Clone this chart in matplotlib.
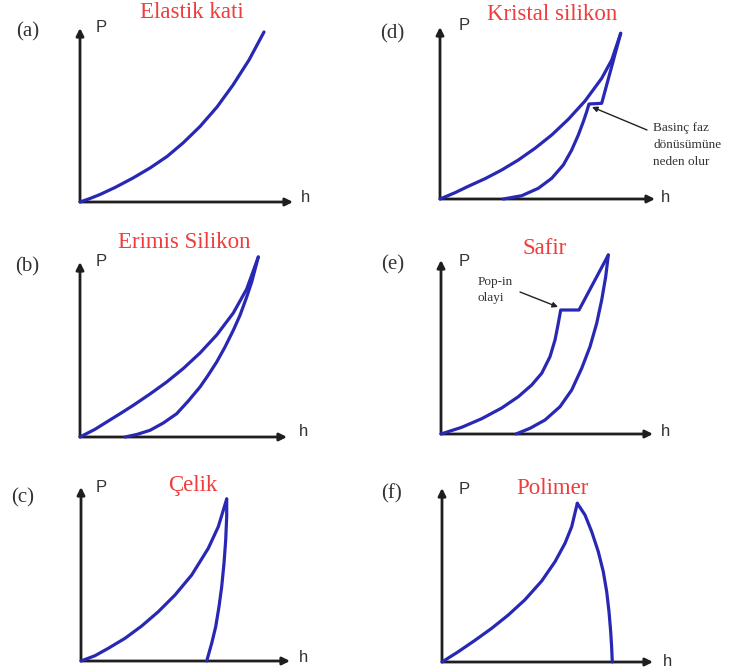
import matplotlib
matplotlib.use("Agg")
import matplotlib.pyplot as plt

W, H = 742, 669
DPI = 100

CURVE_COLOR = "#2828b4"
AXIS_COLOR = "#1e1e1e"
TITLE_COLOR = "#f03c3c"
TEXT_COLOR = "#333333"

# panel tags and material names
TAGS = ["(a)", "(b)", "(c)", "(d)", "(e)", "(f)"]
TITLES = ["Elastik kati", "Erimis Silikon", "Çelik",
          "Kristal silikon", "Safir", "Polimer"]

# (a) elastic solid: loading only
A_LOAD_H = [0, 10, 20, 35, 53, 70, 87, 103, 120, 137, 153, 169, 184]
A_LOAD_P = [0, 3.5, 7.5, 14.5, 24, 34, 45.5, 59, 75.5, 95, 117, 142, 170]

# (b) fused silica
B_LOAD_H = [0, 15, 28.3, 41.7, 53.3, 70, 86.7, 103.3, 120, 136.7, 153.3, 166.7, 178.3]
B_LOAD_P = [0, 7.7, 16, 24.3, 31.7, 43, 55, 68.5, 84, 102, 124, 148, 180]
B_UNLOAD_H = [178.3, 171.7, 166.7, 160, 153.3, 145, 136.7, 128.3, 120,
              108.3, 96.7, 83.3, 70, 56.7, 45]
B_UNLOAD_P = [180, 155, 140, 121.7, 106.7, 90, 75, 62, 50,
              36, 23.3, 14, 6.7, 2.5, 0]

# (c) steel
C_LOAD_H = [0, 14, 27.3, 44, 60.7, 77.3, 94, 110.7, 127.3, 137.3, 145.7]
C_LOAD_P = [0, 5.3, 12.7, 22.7, 35, 49.3, 66, 86, 112.7, 134.3, 162]
C_UNLOAD_H = [145.7, 145.7, 144.7, 143, 140.7, 138, 134.7, 130.7, 125.7]
C_UNLOAD_P = [162, 144.3, 121, 97.7, 74.3, 54.3, 34.3, 17.7, 0]

# (d) crystalline silicon, step on unloading
D_LOAD_H = [0, 15, 28.3, 45, 61.7, 78.3, 95, 111.7, 128.3, 145, 161.7, 171.7, 180.7]
D_LOAD_P = [0, 6.3, 12.7, 20.3, 29, 39, 50.7, 64, 79.7, 98, 120.7, 139, 165.7]
D_UNLOAD_H = [180.7, 161.7, 149, 146.7, 143.3, 138.3, 131.7, 123.3, 111.7, 98.3, 81.7, 63.3]
D_UNLOAD_P = [165.7, 95.7, 95, 87.3, 77.3, 64, 49, 34, 20.7, 10.7, 3.3, 0]

# (e) sapphire, pop-in on loading
E_LOAD_H = [0, 20.7, 40.7, 60.7, 77.3, 90.7, 100.7, 109, 114, 117.3, 119.7, 138, 167.3]
E_LOAD_P = [0, 6.7, 15.3, 26, 37.3, 49, 60.7, 77.3, 94, 110.7, 124, 124, 179]
E_UNLOAD_H = [167.3, 164.7, 160.7, 155.7, 149, 140.7, 130.7, 119, 104, 89, 75]
E_UNLOAD_P = [179, 157.3, 134, 110.7, 87.3, 65.7, 44, 27.3, 14, 5.7, 0]

# (f) polymer
F_LOAD_H = [0, 16.3, 33, 49.7, 66.3, 83, 99.7, 113, 123, 129.7, 135.3]
F_LOAD_P = [0, 10.3, 21.7, 33.7, 47, 62.3, 81, 100.3, 118.7, 135.3, 158.7]
F_UNLOAD_H = [135.3, 143, 149.7, 156.3, 161.3, 164.7, 167, 168.7, 169.7, 170.3]
F_UNLOAD_P = [158.7, 147, 130.3, 110.3, 90.3, 70.3, 50.3, 30.3, 13.7, 0]

CURVES = [
    [(A_LOAD_H, A_LOAD_P)],
    [(B_LOAD_H, B_LOAD_P), (B_UNLOAD_H, B_UNLOAD_P)],
    [(C_LOAD_H, C_LOAD_P), (C_UNLOAD_H, C_UNLOAD_P)],
    [(D_LOAD_H, D_LOAD_P), (D_UNLOAD_H, D_UNLOAD_P)],
    [(E_LOAD_H, E_LOAD_P), (E_UNLOAD_H, E_UNLOAD_P)],
    [(F_LOAD_H, F_LOAD_P), (F_UNLOAD_H, F_UNLOAD_P)],
]

# panel origin, x-axis tip, y-axis tip (pixels)
PANELS = [
    (80, 202, 293, 28),
    (80, 437, 287, 262),
    (81, 661, 290, 487),
    (440, 199, 655, 27),
    (441, 434, 653, 260),
    (442, 662, 653, 488),
]
TAG_POS = [(28, 32), (27, 267), (23, 498), (392, 34), (393, 265), (392, 494)]
TITLE_POS = [(192, 13), (184, 242), (193, 486), (552, 14), (545, 248), (552, 488)]
P_POS = [(101, 27), (101, 262), (101, 487), (464, 26), (464, 261), (464, 489)]
H_POS = [(306, 198), (304, 432), (304, 658), (666, 198), (666, 432), (668, 661)]


def fig_xy(x, y):
    return x / W, 1 - y / H


fig = plt.figure(figsize=(W / DPI, H / DPI), dpi=DPI)
fig.patch.set_facecolor("white")

serif = ["Liberation Serif", "DejaVu Serif"]
sans = ["Liberation Sans", "DejaVu Sans"]

axes = []
for i, (x0, y0, xt, yt) in enumerate(PANELS):
    xlen, ylen = xt - x0, y0 - yt
    fx, fy = fig_xy(x0, y0)
    ax = fig.add_axes([fx, fy, xlen / W, ylen / H])
    ax.set_xlim(0, xlen)
    ax.set_ylim(0, ylen)
    ax.axis("off")
    arrow = dict(arrowstyle="-|>", lw=2.0, color=AXIS_COLOR,
                 mutation_scale=11, shrinkA=0, shrinkB=0)
    ax.annotate("", xy=(xlen, 0), xytext=(0, 0), arrowprops=arrow,
                annotation_clip=False)
    ax.annotate("", xy=(0, ylen), xytext=(0, 0), arrowprops=arrow,
                annotation_clip=False)
    for h, p in CURVES[i]:
        ax.plot(h, p, color=CURVE_COLOR, lw=2.3, solid_joinstyle="round",
                solid_capstyle="round", clip_on=False, zorder=3)
    axes.append(ax)

    fig.text(*fig_xy(*TAG_POS[i]), TAGS[i], ha="center", va="center",
             fontsize=15, family=serif, color=TEXT_COLOR)
    fig.text(*fig_xy(*TITLE_POS[i]), TITLES[i], ha="center", va="center",
             fontsize=16.5, family=serif, color=TITLE_COLOR)
    fig.text(*fig_xy(*P_POS[i]), "P", ha="center", va="center",
             fontsize=12, family=sans, color=TEXT_COLOR)
    fig.text(*fig_xy(*H_POS[i]), "h", ha="center", va="center",
             fontsize=12, family=sans, color=TEXT_COLOR)

# callouts on (d) and (e)
note_arrow = dict(arrowstyle="-|>", lw=1.0, color="#222222",
                  mutation_scale=8, shrinkA=0, shrinkB=0)
axes[3].annotate("", xy=(152, 92), xytext=(207, 69), arrowprops=note_arrow,
                 annotation_clip=False)
for txt, ty in [("Basinç faz", 128), ("dönüsümüne", 145), ("neden olur", 162)]:
    fig.text(*fig_xy(653, ty), txt, ha="left", va="center",
             fontsize=9.5, family=serif, color=TEXT_COLOR)

axes[4].annotate("", xy=(117, 127), xytext=(79, 142), arrowprops=note_arrow,
                 annotation_clip=False)
fig.text(*fig_xy(478, 282), "Pop-in", ha="left", va="center",
         fontsize=9.5, family=serif, color=TEXT_COLOR)
fig.text(*fig_xy(478, 298), "olayi", ha="left", va="center",
         fontsize=9.5, family=serif, color=TEXT_COLOR)

fig.savefig("out.png", dpi=DPI)
